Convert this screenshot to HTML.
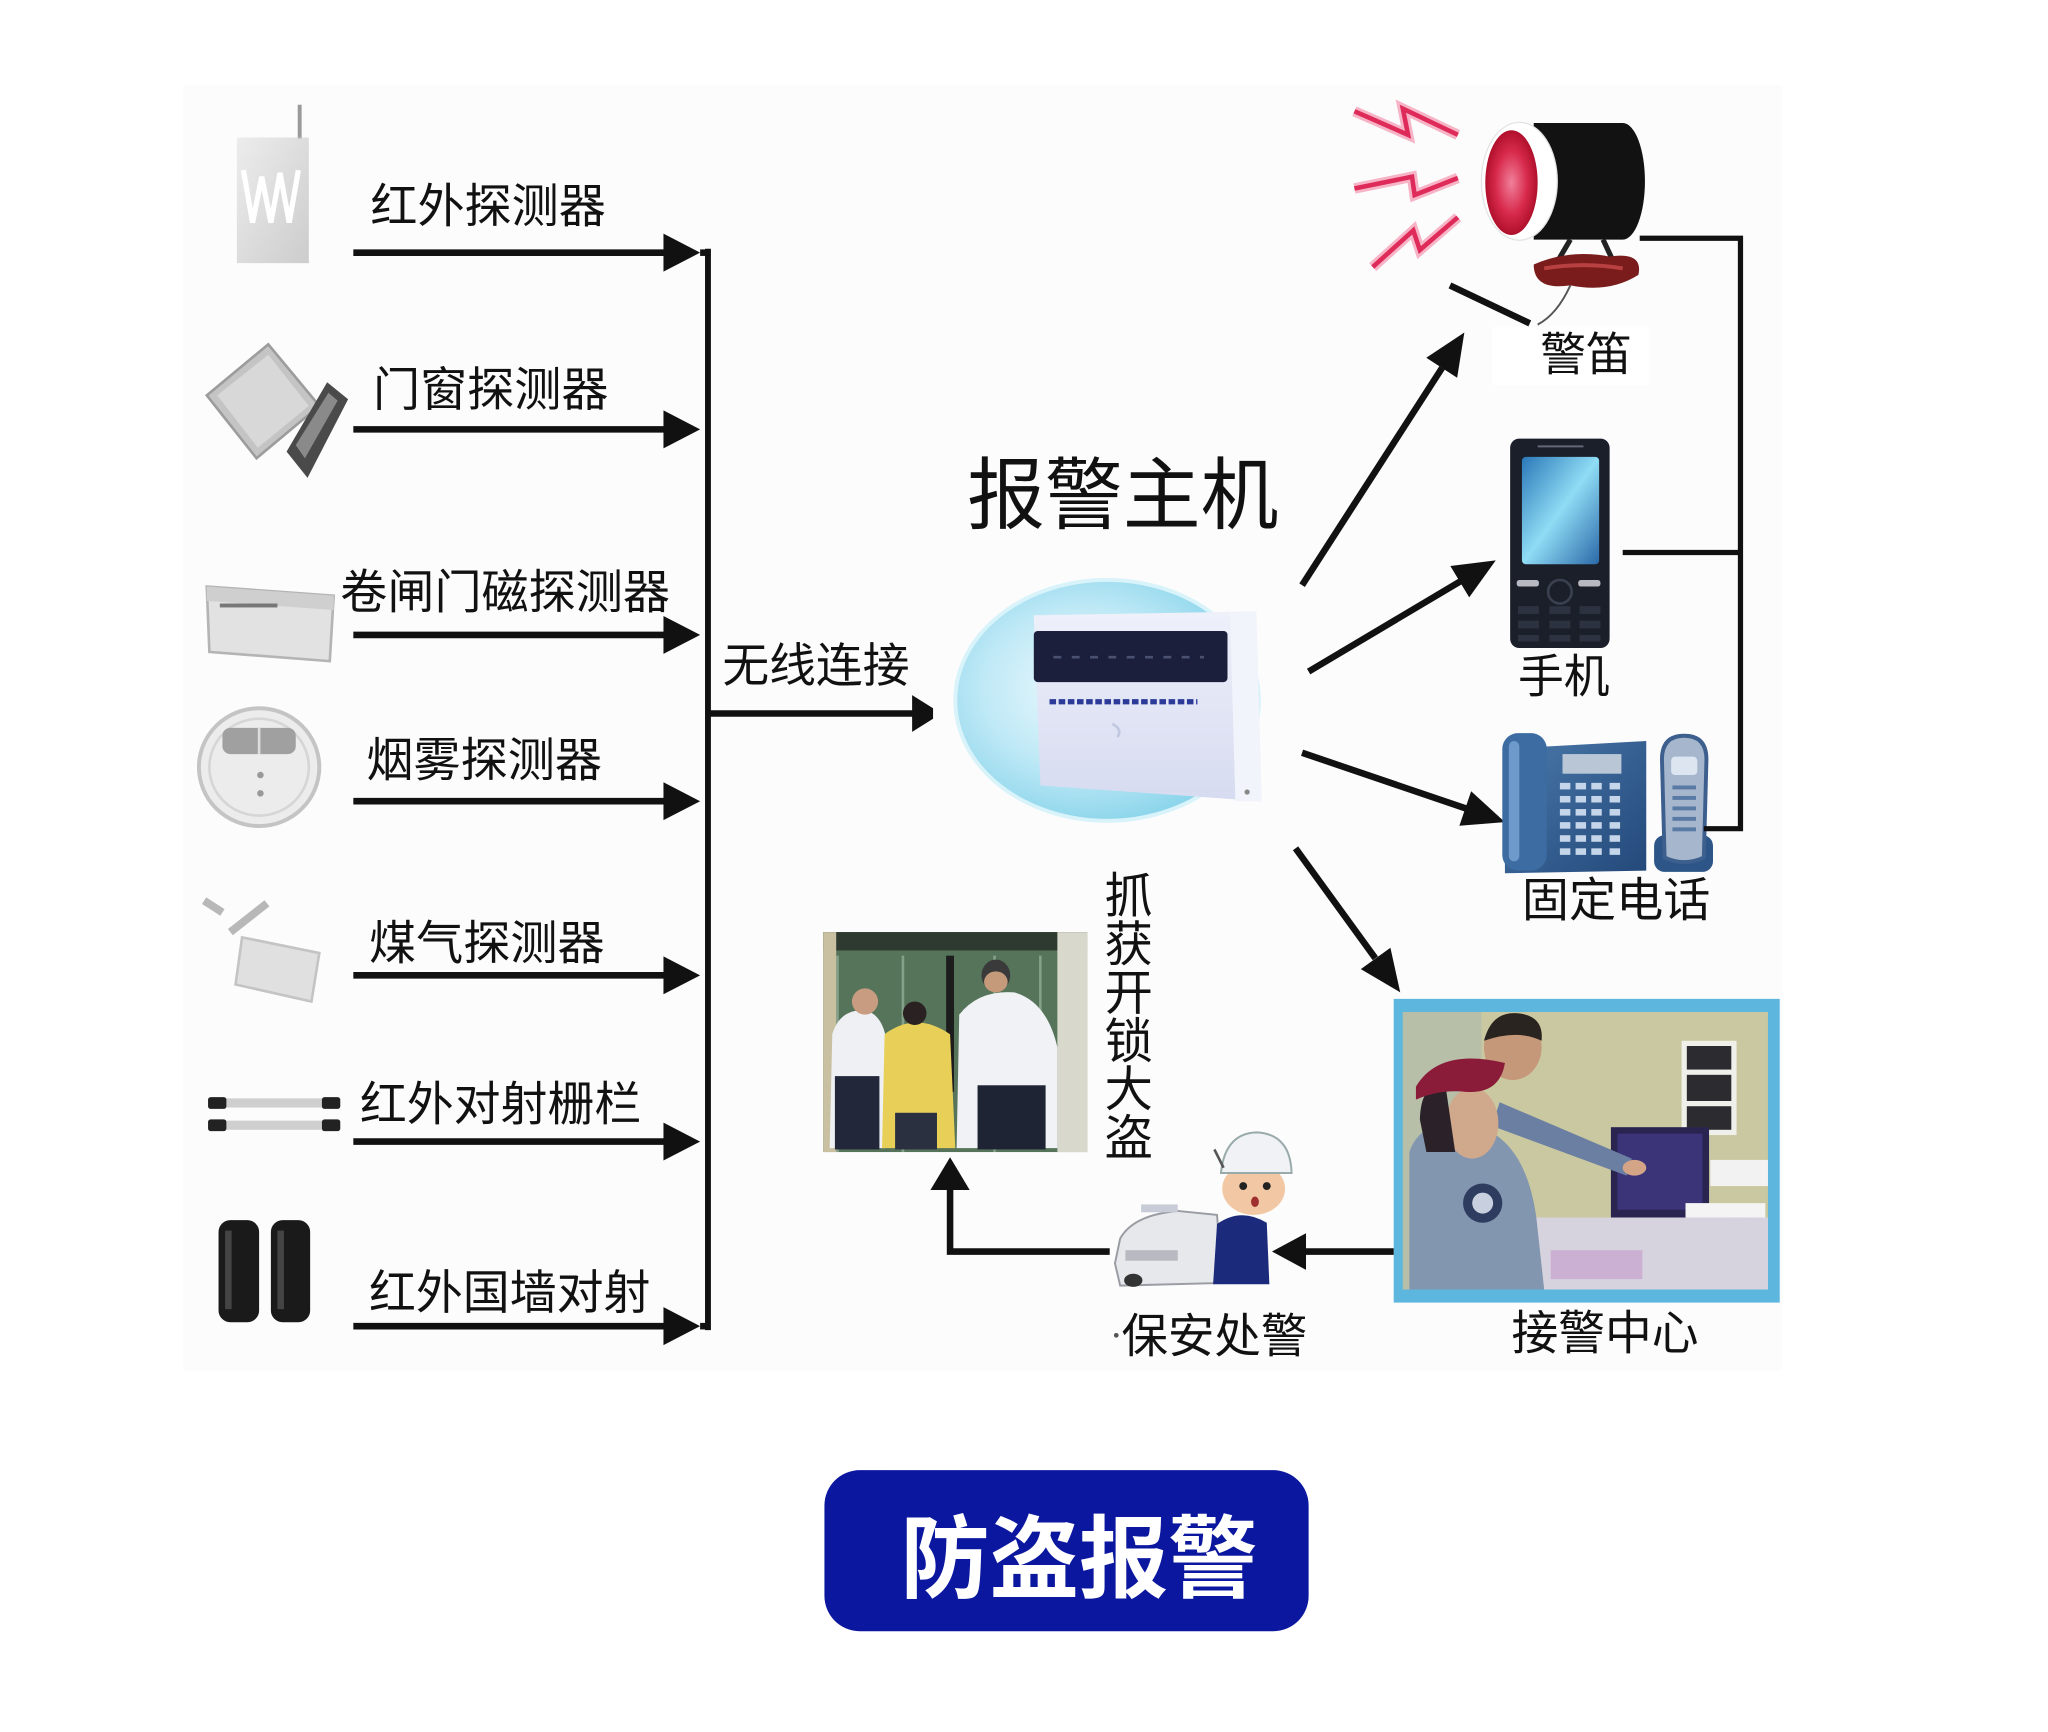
<!DOCTYPE html>
<html><head><meta charset="utf-8">
<style>
html,body{margin:0;padding:0;background:#fff;}
svg{display:block;}
text{font-family:"Liberation Sans","Noto Sans CJK SC",sans-serif;fill:#111;}
</style></head>
<body>
<svg width="2048" height="1732" viewBox="0 0 1565 1323" preserveAspectRatio="none" xmlns="http://www.w3.org/2000/svg">
<defs>
<radialGradient id="bub" cx="0.42" cy="0.45" r="0.6">
<stop offset="0" stop-color="#eefafe"/><stop offset="0.55" stop-color="#bfe9f6"/><stop offset="1" stop-color="#86d3ea"/>
</radialGradient>
<linearGradient id="dev" x1="0" y1="0" x2="0" y2="1">
<stop offset="0" stop-color="#eef0fa"/><stop offset="1" stop-color="#d6dbf0"/>
</linearGradient>
<radialGradient id="red" cx="0.5" cy="0.5" r="0.5">
<stop offset="0" stop-color="#f0809a"/><stop offset="0.6" stop-color="#d82a4c"/><stop offset="1" stop-color="#b0102c"/>
</radialGradient>
<linearGradient id="scr" x1="0" y1="0" x2="1" y2="1">
<stop offset="0" stop-color="#2a78b8"/><stop offset="0.5" stop-color="#8fdcf5"/><stop offset="1" stop-color="#2a68a8"/>
</linearGradient>
<linearGradient id="tel" x1="0" y1="0" x2="1" y2="1">
<stop offset="0" stop-color="#4a78aa"/><stop offset="1" stop-color="#23497a"/>
</linearGradient>
<linearGradient id="gry" x1="0" y1="0" x2="1" y2="1">
<stop offset="0" stop-color="#e6e6e6"/><stop offset="1" stop-color="#b8b8b8"/>
</linearGradient>
</defs>

<rect x="0" y="0" width="1565" height="1323" fill="#fff"/>
<rect x="140" y="65" width="1222" height="982" fill="#fcfcfc"/>

<!-- LEFT ICONS -->
<line x1="229" y1="80" x2="229" y2="106" stroke="#9a9a9a" stroke-width="3"/>
<rect x="181" y="105" width="55" height="96" fill="url(#gry)" opacity="0.7"/>
<path d="M186 130 L193 170 L200 135 L207 170 L214 132 L221 170 L228 130" fill="none" stroke="#fff" stroke-width="4"/>
<polygon points="158,302 205,263 244,310 196,350" fill="#c4c4c4" stroke="#9c9c9c" stroke-width="2"/>
<polygon points="166,302 205,271 236,310 197,342" fill="#d8d8d8"/>
<polygon points="219,345 250,292 266,305 235,365" fill="#4a4a4a"/>
<polygon points="226,340 251,300 258,306 233,350" fill="#8a8a8a"/>
<polygon points="158,448 255,455 252,505 160,498" fill="#e2e2e2" stroke="#b4b4b4" stroke-width="2"/>
<polygon points="158,448 255,455 255,466 158,459" fill="#cfcfcf"/>
<rect x="168" y="461" width="44" height="3" fill="#777"/>
<ellipse cx="198" cy="586" rx="46" ry="45" fill="#ececec" stroke="#c4c4c4" stroke-width="3"/>
<ellipse cx="198" cy="586" rx="38" ry="37" fill="none" stroke="#d6d6d6" stroke-width="2"/>
<rect x="170" y="556" width="56" height="20" rx="6" fill="#a0a0a0"/>
<line x1="198" y1="556" x2="198" y2="576" stroke="#ddd" stroke-width="2"/>
<circle cx="199" cy="592" r="2.5" fill="#999"/><circle cx="199" cy="606" r="2.5" fill="#999"/>
<path d="M156 688 L170 697 M176 712 L204 690" stroke="#b8b8b8" stroke-width="6" fill="none"/>
<polygon points="185,716 244,728 238,765 180,752" fill="#e0e0e0" stroke="#c4c4c4" stroke-width="2"/>
<rect x="159" y="839" width="101" height="7" fill="#cfcfcf"/>
<rect x="159" y="856" width="101" height="7" fill="#cfcfcf"/>
<rect x="159" y="838" width="14" height="9" rx="2" fill="#222"/><rect x="246" y="838" width="14" height="9" rx="2" fill="#222"/>
<rect x="159" y="855" width="14" height="9" rx="2" fill="#222"/><rect x="246" y="855" width="14" height="9" rx="2" fill="#222"/>
<rect x="167" y="932" width="31" height="78" rx="9" fill="#1a1a1a"/>
<rect x="207" y="932" width="30" height="78" rx="9" fill="#1a1a1a"/>
<rect x="172" y="940" width="5" height="60" fill="#444"/><rect x="212" y="940" width="5" height="60" fill="#444"/>

<!-- LEFT LABELS -->
<text x="283" y="170" font-size="36" textLength="180" lengthAdjust="spacingAndGlyphs">红外探测器</text>
<text x="285" y="310" font-size="36" textLength="180" lengthAdjust="spacingAndGlyphs">门窗探测器</text>
<text x="260" y="465" font-size="36" textLength="252" lengthAdjust="spacingAndGlyphs">卷闸门磁探测器</text>
<text x="280" y="593" font-size="36" textLength="180" lengthAdjust="spacingAndGlyphs">烟雾探测器</text>
<text x="282" y="733" font-size="36" textLength="180" lengthAdjust="spacingAndGlyphs">煤气探测器</text>
<text x="275" y="856" font-size="36" textLength="215" lengthAdjust="spacingAndGlyphs">红外对射栅栏</text>
<text x="282" y="1000" font-size="36" textLength="215" lengthAdjust="spacingAndGlyphs">红外国墙对射</text>

<!-- LEFT ARROWS -->
<g stroke="#111" stroke-width="5">
<line x1="270" y1="193" x2="512" y2="193"/>
<line x1="270" y1="328" x2="512" y2="328"/>
<line x1="270" y1="485" x2="512" y2="485"/>
<line x1="270" y1="612" x2="512" y2="612"/>
<line x1="270" y1="745" x2="512" y2="745"/>
<line x1="270" y1="872" x2="512" y2="872"/>
<line x1="270" y1="1013" x2="512" y2="1013"/>
</g>
<g fill="#111">
<polygon points="507,178.5 535,193 507,207.5"/>
<polygon points="507,313.5 535,328 507,342.5"/>
<polygon points="507,470.5 535,485 507,499.5"/>
<polygon points="507,597.5 535,612 507,626.5"/>
<polygon points="507,730.5 535,745 507,759.5"/>
<polygon points="507,857.5 535,872 507,886.5"/>
<polygon points="507,998.5 535,1013 507,1027.5"/>
</g>
<line x1="541" y1="190" x2="541" y2="1016" stroke="#111" stroke-width="4.5"/>
<line x1="535" y1="193" x2="543" y2="193" stroke="#111" stroke-width="5"/>
<line x1="535" y1="1013" x2="543" y2="1013" stroke="#111" stroke-width="5"/>

<!-- wireless -->
<text x="552" y="521" font-size="36" textLength="143" lengthAdjust="spacingAndGlyphs">无线连接</text>
<line x1="541" y1="545" x2="702" y2="545" stroke="#111" stroke-width="5"/>
<polygon points="697,531 713,541 713,549 697,559" fill="#111"/>

<!-- MAIN UNIT -->
<text x="739" y="399" font-size="60" textLength="238" lengthAdjust="spacingAndGlyphs">报警主机</text>
<ellipse cx="846" cy="535" rx="116" ry="92" fill="url(#bub)" stroke="#d8f3fa" stroke-width="3"/>
<polygon points="790,470 960,467 964,612 795,600" fill="url(#dev)"/>
<polygon points="940,468 960,467 964,612 944,612" fill="#f2f4fb"/>
<rect x="790" y="482" width="148" height="39" rx="3" fill="#1b1f3c"/>
<line x1="805" y1="502" x2="920" y2="502" stroke="#4a5070" stroke-width="2" stroke-dasharray="6 8"/>
<line x1="802" y1="536" x2="915" y2="536" stroke="#2c3a9a" stroke-width="4" stroke-dasharray="5 2"/>
<path d="M850 553 q8 4 4 10" stroke="#c0c8e0" stroke-width="2" fill="none"/>
<circle cx="953" cy="605" r="2" fill="#888"/>

<!-- RIGHT ARROWS -->
<g stroke="#111" stroke-width="5" stroke-linecap="butt">
<line x1="995" y1="447" x2="1102" y2="281"/>
<line x1="1000" y1="513" x2="1116" y2="444"/>
<line x1="995" y1="575" x2="1120" y2="617.5"/>
<line x1="990" y1="648" x2="1051" y2="732"/>
</g>
<g fill="#111">
<polygon points="1119,254 1113.5,288.5 1089.9,273.3"/>
<polygon points="1143,428 1122.7,456.3 1108.3,432.3"/>
<polygon points="1150,628 1115.2,630.8 1124.2,604.4"/>
<polygon points="1070,758 1039.9,740.3 1062.5,723.9"/>
</g>

<!-- SIREN -->
<g fill="none" stroke-linejoin="miter">
<polyline points="1035,85 1076,103 1072,83 1114,103" stroke="#f6b4c6" stroke-width="8"/>
<polyline points="1035,144 1079,135 1081,149 1114,136" stroke="#f6b4c6" stroke-width="8"/>
<polyline points="1049,204 1080,176 1085,191 1114,166" stroke="#f6b4c6" stroke-width="8"/>
<polyline points="1035,85 1076,103 1072,83 1114,103" stroke="#de2b5a" stroke-width="3.5"/>
<polyline points="1035,144 1079,135 1081,149 1114,136" stroke="#de2b5a" stroke-width="3.5"/>
<polyline points="1049,204 1080,176 1085,191 1114,166" stroke="#de2b5a" stroke-width="3.5"/>
</g>
<path d="M1172 94 L1240 94 A17 44.5 0 0 1 1240 183 L1172 183 Z" fill="#121212"/>
<ellipse cx="1161" cy="138.5" rx="29" ry="45" fill="#fff" stroke="#e4e4e4" stroke-width="1"/>
<ellipse cx="1155" cy="139.5" rx="20" ry="40" fill="url(#red)"/>
<path d="M1200 183 L1190 200 M1225 183 L1232 198" stroke="#222" stroke-width="4"/>
<path d="M1172 202 Q1200 190 1230 196 Q1256 192 1252 210 Q1230 224 1200 218 Q1172 222 1172 202 Z" fill="#7a1c1c"/>
<path d="M1180 205 Q1210 200 1240 205" stroke="#b84040" stroke-width="3" fill="none"/>
<path d="M1200 218 Q1190 240 1175 248" stroke="#555" stroke-width="1.5" fill="none"/>
<line x1="1108" y1="218" x2="1169" y2="247" stroke="#111" stroke-width="5"/>
<rect x="1140" y="250" width="120" height="44" fill="#fff"/>
<text x="1177" y="283" font-size="35" textLength="70" lengthAdjust="spacingAndGlyphs">警笛</text>

<!-- MOBILE -->
<rect x="1154" y="335" width="76" height="160" rx="7" fill="#1b1f29"/>
<rect x="1163" y="349" width="59" height="82" rx="3" fill="url(#scr)"/>
<line x1="1175" y1="341" x2="1210" y2="341" stroke="#667" stroke-width="1.5"/>
<rect x="1159" y="443" width="17" height="5" rx="2" fill="#b8b8c0"/>
<rect x="1206" y="443" width="17" height="5" rx="2" fill="#b8b8c0"/>
<circle cx="1192" cy="452" r="9" fill="none" stroke="#3a4050" stroke-width="2"/>
<g fill="#2c3240">
<rect x="1160" y="463" width="16" height="6"/><rect x="1184" y="463" width="16" height="6"/><rect x="1207" y="463" width="16" height="6"/>
<rect x="1160" y="474" width="16" height="6"/><rect x="1184" y="474" width="16" height="6"/><rect x="1207" y="474" width="16" height="6"/>
<rect x="1160" y="485" width="16" height="5"/><rect x="1184" y="485" width="16" height="5"/><rect x="1207" y="485" width="16" height="5"/>
</g>
<text x="1160" y="529" font-size="35" textLength="70" lengthAdjust="spacingAndGlyphs">手机</text>

<!-- LANDLINE -->
<polygon points="1150,572 1258,566 1258,665 1150,667" fill="url(#tel)"/>
<rect x="1148" y="560" width="34" height="105" rx="12" fill="#3c6ca2"/>
<rect x="1153" y="566" width="8" height="92" rx="4" fill="#6e9acb"/>
<rect x="1194" y="576" width="45" height="15" fill="#b8c6d6"/>
<g fill="#c6d6ea">
<rect x="1192" y="598" width="8" height="5"/><rect x="1204" y="598" width="8" height="5"/><rect x="1216" y="598" width="8" height="5"/><rect x="1230" y="598" width="8" height="5"/>
<rect x="1192" y="608" width="8" height="5"/><rect x="1204" y="608" width="8" height="5"/><rect x="1216" y="608" width="8" height="5"/><rect x="1230" y="608" width="8" height="5"/>
<rect x="1192" y="618" width="8" height="5"/><rect x="1204" y="618" width="8" height="5"/><rect x="1216" y="618" width="8" height="5"/><rect x="1230" y="618" width="8" height="5"/>
<rect x="1192" y="628" width="8" height="5"/><rect x="1204" y="628" width="8" height="5"/><rect x="1216" y="628" width="8" height="5"/><rect x="1230" y="628" width="8" height="5"/>
<rect x="1192" y="638" width="8" height="5"/><rect x="1204" y="638" width="8" height="5"/><rect x="1216" y="638" width="8" height="5"/><rect x="1230" y="638" width="8" height="5"/>
<rect x="1192" y="648" width="8" height="5"/><rect x="1204" y="648" width="8" height="5"/><rect x="1216" y="648" width="8" height="5"/><rect x="1230" y="648" width="8" height="5"/>
</g>
<rect x="1264" y="638" width="45" height="28" rx="8" fill="#2d5588"/>
<path d="M1270 580 Q1270 562 1287 562 Q1304 562 1304 580 L1302 655 Q1287 662 1272 655 Z" fill="#a6b6cc" stroke="#3d5f8e" stroke-width="3"/>
<rect x="1277" y="578" width="20" height="14" rx="3" fill="#dde6f0"/>
<g fill="#5a7aa6"><rect x="1278" y="600" width="18" height="3"/><rect x="1278" y="608" width="18" height="3"/><rect x="1278" y="616" width="18" height="3"/><rect x="1278" y="624" width="18" height="3"/><rect x="1278" y="632" width="18" height="3"/></g>
<text x="1163" y="700" font-size="36" textLength="144" lengthAdjust="spacingAndGlyphs">固定电话</text>

<!-- RIGHT BRACKET -->
<polyline points="1253,182 1330,182 1330,633 1302,633" fill="none" stroke="#111" stroke-width="4"/>
<line x1="1240" y1="422" x2="1330" y2="422" stroke="#111" stroke-width="4"/>

<!-- RECEPTION CENTER -->
<rect x="1065" y="763" width="295" height="232" fill="#5cb6de"/>
<rect x="1072" y="773" width="279" height="212" fill="#cac8a0"/>
<rect x="1072" y="773" width="60" height="212" fill="#b7bfa8"/>
<rect x="1285" y="795" width="42" height="72" fill="#f0f0ea"/>
<rect x="1289" y="799" width="34" height="18" fill="#2c2c30"/>
<rect x="1289" y="821" width="34" height="20" fill="#2c2c30"/>
<rect x="1289" y="845" width="34" height="18" fill="#2c2c30"/>
<rect x="1231" y="861" width="75" height="69" fill="#2a2550"/>
<rect x="1236" y="866" width="65" height="58" fill="#3b3478"/>
<rect x="1307" y="886" width="44" height="20" fill="#f2f2f2"/>
<rect x="1288" y="919" width="61" height="39" fill="#f4f4f4"/>
<rect x="1318" y="930" width="18" height="6" fill="#4a6aa0"/>
<rect x="1149" y="930" width="202" height="55" fill="#d6d2de"/>
<rect x="1185" y="955" width="70" height="22" fill="#c8a8d0" opacity="0.8"/>
<path d="M1146 842 L1247 885 L1243 898 L1140 860 Z" fill="#6a7fa2"/>
<ellipse cx="1249" cy="892" rx="9" ry="6" fill="#d4a486"/>
<ellipse cx="1156" cy="800" rx="22" ry="25" fill="#c49878"/>
<path d="M1134 795 Q1140 772 1160 774 Q1180 776 1178 795 Q1160 786 1134 795 Z" fill="#2a2420"/>
<path d="M1077 985 L1077 880 Q1085 855 1120 858 Q1165 865 1174 930 L1180 985 Z" fill="#8396b0"/>
<circle cx="1133" cy="919" r="15" fill="#2e3c60"/>
<circle cx="1133" cy="919" r="8" fill="#c8d0e0"/>
<ellipse cx="1125" cy="858" rx="20" ry="27" fill="#d0a88c"/>
<path d="M1085 855 Q1086 825 1105 832 L1112 880 L1090 880 Z" fill="#2a2228"/>
<path d="M1082 830 Q1100 800 1150 812 Q1146 836 1120 834 Q1100 832 1082 840 Z" fill="#8a1c3a"/>
<text x="1155" y="1031" font-size="36" textLength="143" lengthAdjust="spacingAndGlyphs">接警中心</text>

<!-- CAPTURE PHOTO -->
<rect x="629" y="712" width="202" height="168" fill="#56745a"/>
<rect x="629" y="712" width="202" height="14" fill="#2e3a30"/>
<g stroke="#84a088" stroke-width="2"><line x1="640" y1="730" x2="640" y2="880"/><line x1="690" y1="730" x2="690" y2="880"/><line x1="760" y1="730" x2="760" y2="880"/><line x1="795" y1="730" x2="795" y2="800"/></g>
<rect x="808" y="712" width="23" height="168" fill="#d8d8cc"/>
<rect x="629" y="712" width="10" height="168" fill="#c8c0a0"/>
<rect x="723" y="730" width="6" height="104" fill="#1c1c1c"/>
<path d="M634 877 L636 790 Q642 770 662 772 Q676 776 678 800 L676 877 Z" fill="#eef0f4"/>
<rect x="638" y="822" width="34" height="56" fill="#22283a"/>
<ellipse cx="661" cy="765" rx="10" ry="10" fill="#c89c80"/>
<path d="M674 877 L676 790 Q700 772 726 790 L730 877 Z" fill="#e8d058"/>
<rect x="684" y="850" width="32" height="28" fill="#2a3040"/>
<ellipse cx="699" cy="774" rx="9" ry="9" fill="#2a2222"/>
<path d="M731 877 L733 775 Q748 756 775 758 Q800 765 808 800 L808 877 Z" fill="#f0f2f6"/>
<rect x="747" y="829" width="52" height="49" fill="#1e2434"/>
<ellipse cx="761" cy="745" rx="11" ry="12" fill="#3a3a3a"/>
<ellipse cx="761" cy="750" rx="9" ry="8" fill="#c49a7a"/>

<!-- vertical text -->
<g font-size="37">
<text x="844" y="697" textLength="37" lengthAdjust="spacingAndGlyphs">抓</text>
<text x="844" y="734" textLength="37" lengthAdjust="spacingAndGlyphs">获</text>
<text x="844" y="771" textLength="37" lengthAdjust="spacingAndGlyphs">开</text>
<text x="844" y="808" textLength="37" lengthAdjust="spacingAndGlyphs">锁</text>
<text x="844" y="845" textLength="37" lengthAdjust="spacingAndGlyphs">大</text>
<text x="844" y="882" textLength="37" lengthAdjust="spacingAndGlyphs">盗</text>
</g>

<!-- GUARD -->
<path d="M852 965 L856 946 Q866 928 900 925 L930 928 L934 980 L856 982 Z" fill="#e6e8ec" stroke="#9a9ca4" stroke-width="1.5"/>
<rect x="872" y="920" width="28" height="6" fill="#c8ccd8"/>
<rect x="860" y="955" width="40" height="8" fill="#b8bac2"/>
<ellipse cx="866" cy="978" rx="7" ry="5" fill="#333"/>
<path d="M927 981 L930 935 Q948 922 968 934 L970 981 Z" fill="#1c2a7c"/>
<ellipse cx="958" cy="908" rx="24" ry="20" fill="#f2c8a4"/>
<path d="M933 896 Q936 866 960 865 Q986 866 987 896 Z" fill="#f0f2f6" stroke="#9aa" stroke-width="1.5"/>
<circle cx="950" cy="906" r="3" fill="#222"/><circle cx="968" cy="906" r="3" fill="#222"/>
<ellipse cx="959" cy="918" rx="3" ry="4" fill="#a03030"/>
<line x1="935" y1="892" x2="928" y2="878" stroke="#555" stroke-width="2"/>

<!-- BOTTOM ARROWS -->
<line x1="1065" y1="956" x2="996" y2="956" stroke="#111" stroke-width="5"/>
<polygon points="998,942 972,956 998,970" fill="#111"/>
<polyline points="848,956 726,956 726,906" fill="none" stroke="#111" stroke-width="5"/>
<polygon points="711,909 726,884 741,909" fill="#111"/>
<circle cx="853" cy="1020" r="1.8" fill="#555"/>
<text x="857" y="1033" font-size="36" textLength="142" lengthAdjust="spacingAndGlyphs">保安处警</text>

<!-- BUTTON -->
<rect x="630" y="1123" width="370" height="123" rx="27" fill="#0b179f"/>
<text x="688" y="1215" font-size="69" font-weight="700" fill="#fff" style="fill:#fff" textLength="273" lengthAdjust="spacingAndGlyphs">防盗报警</text>
</svg>
</body></html>
